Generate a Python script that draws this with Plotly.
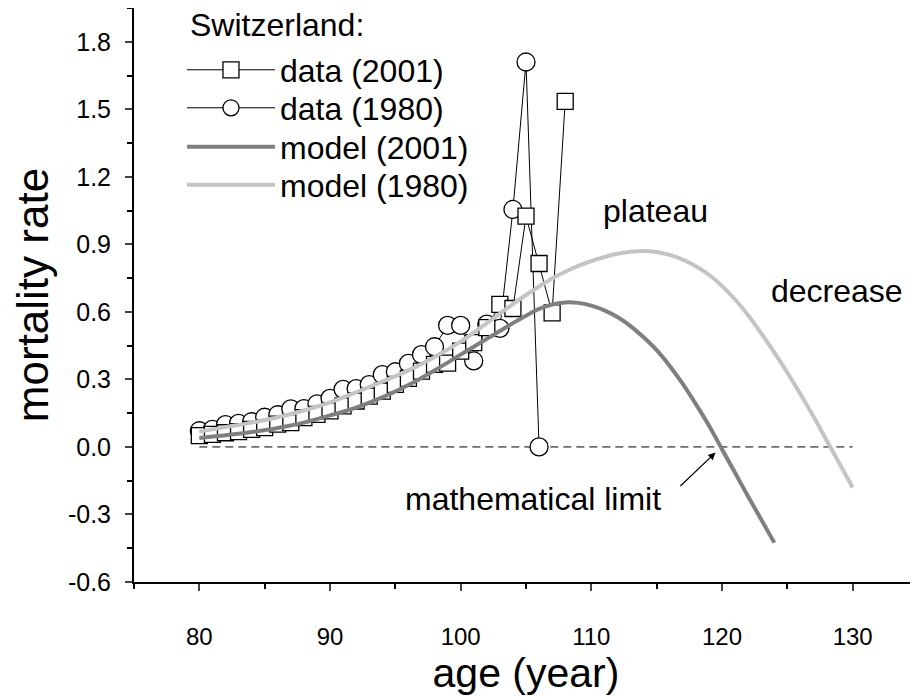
import plotly.graph_objects as go

# ---------------- data ----------------
ages_2001 = list(range(80, 109))
rate_2001 = [0.050, 0.056, 0.063, 0.068, 0.078, 0.086, 0.101, 0.108, 0.130, 0.145,
             0.160, 0.182, 0.204, 0.226, 0.248, 0.278, 0.305, 0.337, 0.367, 0.372,
             0.426, 0.463, 0.530, 0.633, 0.615, 1.025, 0.815, 0.596, 1.535]

ages_1980 = list(range(80, 107))
rate_1980 = [0.072, 0.078, 0.099, 0.105, 0.112, 0.132, 0.143, 0.169, 0.170, 0.191,
             0.216, 0.256, 0.259, 0.277, 0.321, 0.334, 0.371, 0.410, 0.445, 0.540,
             0.540, 0.382, 0.546, 0.527, 1.055, 1.710, 0.000]

model_age_2001 = [80, 82, 84, 86, 88, 90, 92, 94, 96, 98, 100, 101, 102, 103, 104, 105, 106,
                  107, 108, 109, 110, 111, 112, 113, 114, 115, 116, 117, 118, 119, 120,
                  121, 122, 123, 124]
model_rate_2001 = [0.040, 0.052, 0.066, 0.084, 0.108, 0.140, 0.175, 0.220, 0.275, 0.340,
                   0.410, 0.445, 0.480, 0.515, 0.550, 0.583, 0.613, 0.633, 0.642, 0.640,
                   0.628, 0.607, 0.577, 0.537, 0.487, 0.430, 0.360, 0.280, 0.190, 0.095,
                   -0.010, -0.115, -0.220, -0.322, -0.425]

model_age_1980 = [80, 82, 84, 86, 88, 90, 92, 94, 96, 98, 100, 101, 102, 103, 104, 105, 106,
                  107, 108, 109, 110, 111, 112, 113, 114, 115, 116, 117, 118, 119, 120,
                  121, 122, 123, 124, 125, 126, 127, 128, 129, 130]
model_rate_1980 = [0.068, 0.088, 0.108, 0.132, 0.162, 0.198, 0.243, 0.290, 0.340, 0.400,
                   0.468, 0.508, 0.550, 0.592, 0.635, 0.675, 0.713, 0.748, 0.778, 0.804,
                   0.826, 0.844, 0.858, 0.867, 0.871, 0.866, 0.853, 0.832, 0.803, 0.765,
                   0.715, 0.655, 0.585, 0.505, 0.420, 0.330, 0.235, 0.135, 0.030, -0.075,
                   -0.180]

zero_line_x = [80, 130]
zero_line_y = [0, 0]

x_ticks = [80, 90, 100, 110, 120, 130]
y_ticks = [-0.6, -0.3, 0.0, 0.3, 0.6, 0.9, 1.2, 1.5, 1.8]
y_tick_text = ["-0.6", "-0.3", "0.0", "0.3", "0.6", "0.9", "1.2", "1.5", "1.8"]

FONT = "Liberation Sans, Arial, sans-serif"

fig = go.Figure()

# zero reference line
fig.add_trace(go.Scatter(x=zero_line_x, y=zero_line_y, mode="lines",
                         line=dict(color="black", width=1, dash="8px,5px"),
                         showlegend=False, hoverinfo="skip"))

fig.add_trace(go.Scatter(x=ages_1980, y=rate_1980, mode="lines+markers", name="data (1980)",
                         line=dict(color="black", width=1),
                         marker=dict(symbol="circle", size=18, color="white",
                                     line=dict(color="black", width=1.3)),
                         legend="legend2"))
fig.add_trace(go.Scatter(x=ages_2001, y=rate_2001, mode="lines+markers", name="data (2001)",
                         line=dict(color="black", width=1),
                         marker=dict(symbol="square", size=16, color="white",
                                     line=dict(color="black", width=1.3)),
                         legend="legend"))
fig.add_trace(go.Scatter(x=model_age_2001, y=model_rate_2001, mode="lines", name="model (2001)",
                         line=dict(color="#7f7f7f", width=4, shape="spline", smoothing=0.8),
                         legend="legend3"))
fig.add_trace(go.Scatter(x=model_age_1980, y=model_rate_1980, mode="lines", name="model (1980)",
                         line=dict(color="#c4c4c4", width=4, shape="spline", smoothing=0.8),
                         legend="legend4"))

ann_font = dict(family=FONT, size=32, color="black")
# legend heading
fig.add_annotation(x=0.069, y=0.9704, xref="paper", yref="paper", xanchor="left",
                   yanchor="middle", text="Switzerland:", showarrow=False, font=ann_font)
fig.add_annotation(x=114.9, y=1.047, text="plateau", showarrow=False, font=ann_font)
fig.add_annotation(x=128.8, y=0.692, text="decrease", showarrow=False, font=ann_font)
fig.add_annotation(x=119.5, y=-0.025, ax=116.7, ay=-0.18, axref="x", ayref="y",
                   text="", showarrow=True, arrowhead=2, arrowsize=1.2, arrowwidth=1.2,
                   arrowcolor="black")
fig.add_annotation(x=115.5, y=-0.23, text="mathematical limit", showarrow=False,
                   xanchor="right", font=ann_font)

leg_common = dict(x=0.0612, xanchor="left", yanchor="middle", bgcolor="rgba(0,0,0,0)",
                  borderwidth=0, font=dict(family=FONT, size=32), itemwidth=88)

fig.update_layout(
    width=910, height=688,
    margin=dict(l=126, r=0, t=0, b=114, autoexpand=False),
    paper_bgcolor="white", plot_bgcolor="white",
    font=dict(family=FONT, color="black"),
    showlegend=True,
    legend=dict(y=0.892, **leg_common),
    legend2=dict(y=0.8258, **leg_common),
    legend3=dict(y=0.7578, **leg_common),
    legend4=dict(y=0.6916, **leg_common),
    xaxis=dict(range=[75, 135], tickvals=x_ticks, ticks="outside", ticklen=7, tickwidth=2,
               showline=True, linewidth=2, linecolor="black", showgrid=False, zeroline=False,
               tickfont=dict(family=FONT, size=24), ticklabelstandoff=25,
               minor=dict(dtick=5, tick0=75, ticks="outside", ticklen=5, tickwidth=2, tickcolor="black"),
               title=dict(text="age (year)", font=dict(family=FONT, size=41), standoff=12)),
    yaxis=dict(range=[-0.6, 1.95], tickvals=y_ticks, ticktext=y_tick_text, ticks="outside",
               ticklen=7, tickwidth=2,
               showline=True, linewidth=2, linecolor="black", showgrid=False, zeroline=False,
               tickfont=dict(family=FONT, size=25), ticklabelstandoff=9,
               minor=dict(dtick=0.15, tick0=-0.6, ticks="outside", ticklen=5, tickwidth=2, tickcolor="black"),
               title=dict(text="mortality rate", font=dict(family=FONT, size=44), standoff=10)),
)

fig.write_html("out.html")
